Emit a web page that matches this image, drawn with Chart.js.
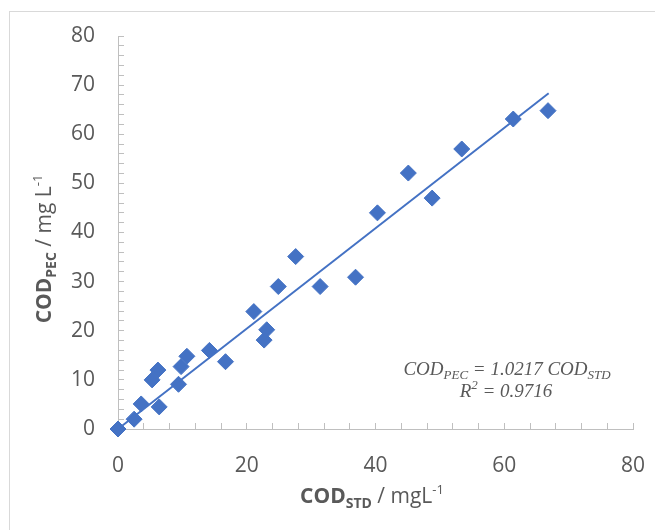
<!DOCTYPE html>
<html>
<head>
<meta charset="utf-8">
<script src="https://cdn.jsdelivr.net/npm/chart.js@4"></script>
<style>
  body { margin: 0; background: #fff; }
  #frame { position: absolute; left: 9px; top: 11px; width: 700px; height: 600px; border: 1px solid #d9d9d9; }
  #wrap { position: absolute; left: 0; top: 0; width: 655px; height: 530px; }
</style>
</head>
<body>
<div id="frame"></div>
<div id="wrap"><canvas id="chart1" width="655" height="530"></canvas></div>
<script>
// measured values (COD_STD vs COD_PEC, mg/L)
const codStd = [0, 2.5, 3.6, 5.3, 6.2, 6.4, 9.4, 9.8, 10.7, 14.2, 16.7, 21.1, 22.7, 23.1, 24.9, 27.6, 31.4, 36.9, 40.3, 45.1, 48.8, 53.4, 61.4, 66.8];
const codPec = [0, 2.0, 5.1, 10.0, 12.0, 4.5, 9.1, 12.7, 14.8, 16.0, 13.7, 23.9, 18.1, 20.2, 29.0, 35.1, 29.0, 30.9, 44.0, 52.1, 47.0, 57.0, 63.1, 64.8];
// trendline end points
const trendX = [0, 66.9];
const trendY = [0, 68.35];
const xTickLabels = [0, 20, 40, 60, 80];
const yTickLabels = [0, 10, 20, 30, 40, 50, 60, 70, 80];

const blue = '#4472C4';
const grey = '#595959';
const axisGrey = '#bfbfbf';

function drawParts(ctx, parts, x, y) {
  let total = 0;
  parts.forEach(p => { ctx.font = p.font; total += ctx.measureText(p.t).width; });
  let cx = x - total / 2;
  ctx.textAlign = 'left';
  ctx.textBaseline = 'alphabetic';
  parts.forEach(p => {
    ctx.font = p.font;
    ctx.fillText(p.t, cx, y + (p.dy || 0));
    cx += ctx.measureText(p.t).width;
  });
}

const titles = {
  id: 'titles',
  afterDraw(chart) {
    const ctx = chart.ctx;
    const f = '"Open Sans", "Noto Sans", sans-serif';
    ctx.save();
    ctx.fillStyle = grey;
    drawParts(ctx, [
      { t: 'COD', font: 'bold 21px ' + f },
      { t: 'STD', font: 'bold 14px ' + f, dy: 5 },
      { t: ' / mgL', font: '21px ' + f },
      { t: '-1', font: '13px ' + f, dy: -9 }
    ], 372, 503);
    ctx.save();
    ctx.translate(51, 249);
    ctx.rotate(-Math.PI / 2);
    drawParts(ctx, [
      { t: 'COD', font: 'bold 21px ' + f },
      { t: 'PEC', font: 'bold 14px ' + f, dy: 5 },
      { t: ' / mg L', font: '21px ' + f },
      { t: '-1', font: '13px ' + f, dy: -9 }
    ], 0, 0);
    ctx.restore();

    // regression label
    const s = '"Liberation Serif", "DejaVu Serif", serif';
    drawParts(ctx, [
      { t: 'COD', font: 'italic 19px ' + s },
      { t: 'PEC', font: 'italic 13px ' + s, dy: 4 },
      { t: ' = 1.0217 COD', font: 'italic 19px ' + s },
      { t: 'STD', font: 'italic 13px ' + s, dy: 4 }
    ], 507, 375);
    drawParts(ctx, [
      { t: 'R', font: 'italic 19px ' + s },
      { t: '2', font: 'italic 13px ' + s, dy: -8 },
      { t: ' = 0.9716', font: 'italic 19px ' + s }
    ], 506, 397);
    ctx.restore();
  }
};

const ctx = document.getElementById('chart1').getContext('2d');
const chart = new Chart(ctx, {
  type: 'scatter',
  data: {
    datasets: [
      {
        type: 'line',
        data: trendX.map((x, i) => ({ x: x, y: trendY[i] })),
        borderColor: blue,
        borderWidth: 2,
        pointRadius: 0,
        fill: false,
        clip: false,
        order: 0
      },
      {
        data: codStd.map((x, i) => ({ x: x, y: codPec[i] })),
        pointStyle: 'rectRot',
        pointRadius: 8,
        backgroundColor: blue,
        borderColor: blue,
        borderWidth: 1,
        clip: false,
        order: 1
      }
    ]
  },
  options: {
    responsive: false,
    animation: false,
    layout: { padding: { left: 0, top: 36, right: 22, bottom: 0 } },
    plugins: {
      legend: { display: false },
      tooltip: { enabled: false }
    },
    scales: {
      x: {
        type: 'linear',
        min: 0,
        max: 80,
        afterFit: (scale) => {
          scale.height = 101;
          scale.paddingLeft = 0;
          scale.paddingRight = 0;
        },
        grid: { drawOnChartArea: false, tickLength: -6, color: axisGrey, tickColor: axisGrey },
        border: { color: axisGrey, width: 1 },
        ticks: {
          stepSize: 4,
          autoSkip: false,
          maxRotation: 0,
          padding: 30,
          color: grey,
          font: { family: '"Open Sans", "Noto Sans", sans-serif', size: 21 },
          callback: (v) => xTickLabels.includes(v) ? String(v) : ''
        }
      },
      y: {
        type: 'linear',
        min: 0,
        max: 80,
        afterFit: (scale) => {
          scale.width = 118;
          scale.paddingTop = 0;
          scale.paddingBottom = 0;
        },
        grid: { drawOnChartArea: false, tickLength: -6, color: axisGrey, tickColor: axisGrey },
        border: { color: axisGrey, width: 1 },
        ticks: {
          stepSize: 2,
          autoSkip: false,
          padding: 29,
          color: grey,
          font: { family: '"Open Sans", "Noto Sans", sans-serif', size: 21 },
          callback: (v) => yTickLabels.includes(v) ? String(v) : ''
        }
      }
    }
  },
  plugins: [titles]
});
</script>
</body>
</html>
